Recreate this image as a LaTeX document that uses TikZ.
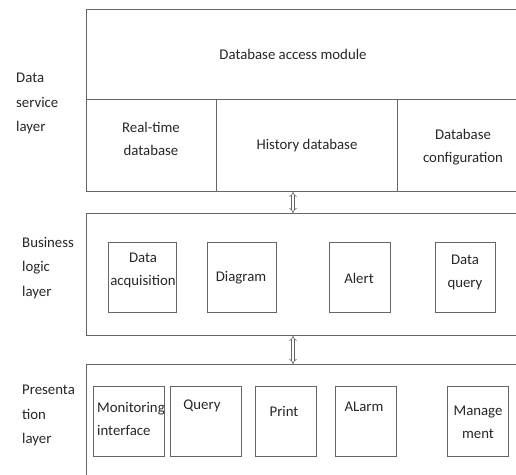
\documentclass[tikz,border=0pt]{standalone}
\usepackage{fontspec}
\setmainfont{Carlito}
\usetikzlibrary{arrows.meta}

\begin{document}
\begin{tikzpicture}[x=1pt,y=-1pt,
	layer/.style={draw=black!60,line width=0.9pt,rectangle,inner sep=0pt,anchor=north west},
	box/.style={draw=black!60,line width=0.9pt,rectangle,inner sep=0pt,anchor=north west},
	txt/.style={align=center,text=black!85,font=\fontsize{14.8}{23}\selectfont,inner sep=0pt},
	side/.style={align=left,text=black!85,font=\fontsize{14.8}{24.5}\selectfont,inner sep=0pt,anchor=north west},
	updown/.style={draw=black!60,double=white,double distance=2pt,line width=0.6pt,{Implies}-{Implies}}]
	\useasboundingbox (0,0) rectangle (516,474);
	% 各層の枠
	\node[layer,minimum width=434,minimum height=182] (data) at (86,9) {};
	\node[layer,minimum width=434,minimum height=122] (logic) at (86,213) {};
	\node[layer,minimum width=434,minimum height=120] (pres) at (86,364) {};
	% データサービス層
	\draw[draw=black!60,line width=0.9pt] (86,99) coordinate (mid_l) -- (data.east |- mid_l);
	\draw[draw=black!60,line width=0.9pt] (216,99) coordinate (div_a) -- (data.south -| div_a);
	\draw[draw=black!60,line width=0.9pt] (397,99) coordinate (div_b) -- (data.south -| div_b);
	\node[txt] (module) at (293,54) {Database access module};
	\node[txt] (realtime) at (151,139) {Real-time\\database};
	\node[txt] (history) at (307,146) {History database};
	\node[txt] (config) at (463,147) {Database\\configuration};
	% ビジネスロジック層
	\node[box,minimum width=68,minimum height=70] (acq_box) at (108,242) {};
	\node[box,minimum width=69,minimum height=70] (diag_box) at (207,242) {};
	\node[box,minimum width=61,minimum height=70] (alert_box) at (329,242) {};
	\node[box,minimum width=60,minimum height=70] (dq_box) at (435,242) {};
	\node[txt] (acq) at (143,270) {Data\\acquisition};
	\node[txt] (diag) at (241,278) {Diagram};
	\node[txt] (alert) at (359,278) {Alert};
	\node[txt] (dq) at (465,272) {Data\\query};
	% プレゼンテーション層
	\node[box,minimum width=71,minimum height=70] (mon_box) at (93,386) {};
	\node[box,minimum width=71,minimum height=70] (query_box) at (170,386) {};
	\node[box,minimum width=61,minimum height=70] (print_box) at (255,386) {};
	\node[box,minimum width=61,minimum height=70] (alarm_box) at (335,386) {};
	\node[box,minimum width=61,minimum height=70] (mgmt_box) at (447,386) {};
	\node[txt,align=left,anchor=west] (mon) at (97,419) {Monitoring\\interface};
	\node[txt] (query) at (202,406) {Query};
	\node[txt] (print) at (284,411) {Print};
	\node[txt] (alarm) at (364,407) {ALarm};
	\node[txt] (mgmt) at (478,422) {Manage\\ment};
	% 層の名前
	\node[side] (data_name) at (16,73) {Data\\service\\layer};
	\node[side] (logic_name) at (22,237) {Business\\logic\\layer};
	\node[side] (pres_name) at (22,385) {Presenta\\tion\\layer};
	% 層の間の矢印
	\draw[updown] (data.south -| module) -- (logic.north -| module);
	\draw[updown] (logic.south -| module) -- (pres.north -| module);
\end{tikzpicture}
\end{document}
